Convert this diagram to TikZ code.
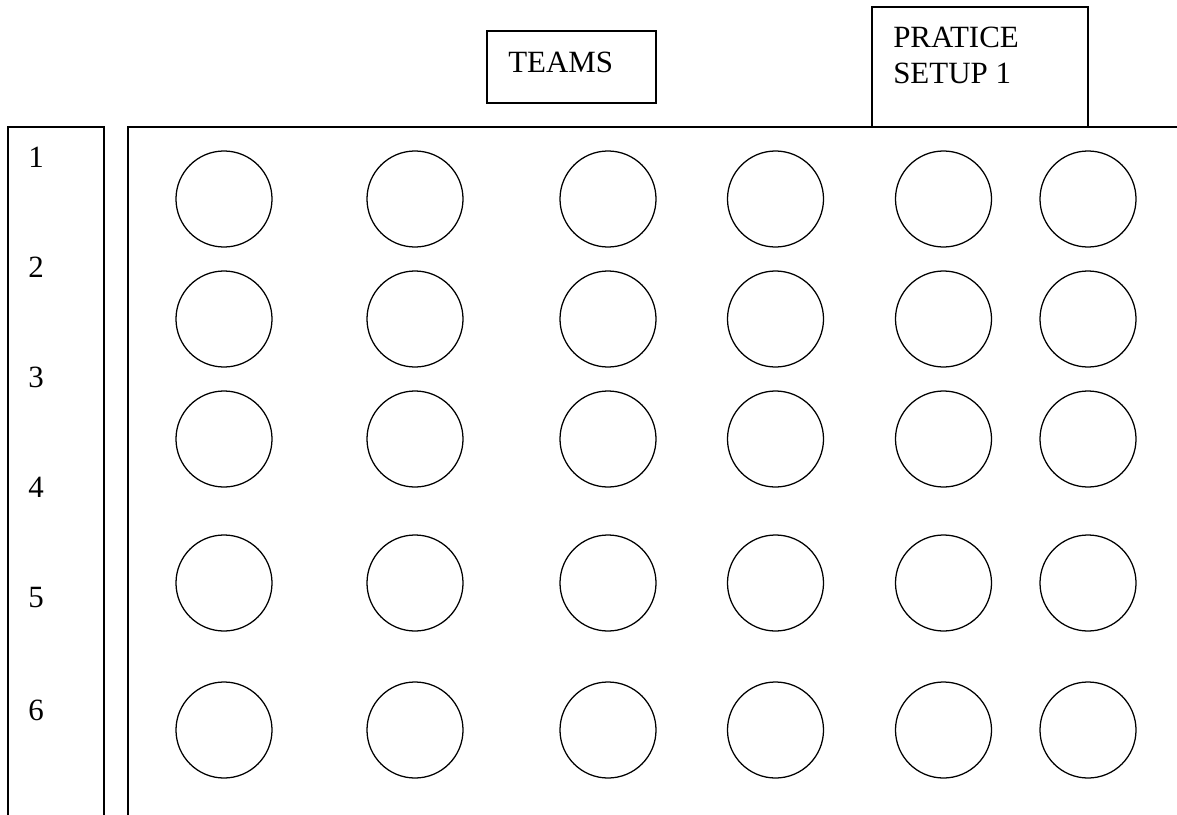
\documentclass[tikz,border=0pt]{standalone}
\usepackage{fontspec}
\setmainfont{Liberation Serif}
\usetikzlibrary{positioning}

\begin{document}
\begin{tikzpicture}[x=0.025cm,y=-0.025cm,
    box/.style={draw=black, line width=0.9pt, inner sep=0pt},
    seat/.style={circle, draw=black, line width=0.9pt, inner sep=0pt, minimum size=2.4cm},
    lbl/.style={font=\fontsize{22}{25.6}\selectfont, inner sep=0pt}]

  \useasboundingbox (0,0) rectangle (1177,815);

  % caixas do topo
  \node[box, minimum width=4.225cm, minimum height=1.8cm] (teams) at (571.5,67) {};
  \node[box, minimum width=5.4cm, minimum height=3cm] (setup) at (980,67) {};
  \node[lbl, anchor=base west] (teamstxt) at (508,72) {TEAMS};
  \node[lbl, anchor=north west, align=left] (setuptxt) at (893,27) {PRATICE\\SETUP 1};

  % campo
  \coordinate (fieldsw) at (128,815);
  \coordinate (fieldnw) at (128,127);
  \coordinate (fieldne) at (1177,127);
  \draw[line width=0.9pt] (fieldsw) -- (fieldnw) -- (fieldne);

  % coluna das filas
  \coordinate (colsw) at (8,815);
  \coordinate (colnw) at (8,127);
  \coordinate (colne) at (104,127);
  \coordinate (colse) at (104,815);
  \draw[line width=0.9pt] (colsw) -- (colnw) -- (colne) -- (colse);

  % numeros
  \foreach \n/\y in {1/167,2/277,3/387,4/497,5/607,6/720}
    \node[lbl, anchor=base] (row\n) at (36,\y) {\n};

  % circulos
  \foreach \c/\x in {1/224,2/415,3/608,4/775.5,5/943.5,6/1088}
    \foreach \r/\y in {1/199,2/319,3/439,4/583,5/730}
      \node[seat] (s\r\c) at (\x,\y) {};

\end{tikzpicture}
\end{document}
